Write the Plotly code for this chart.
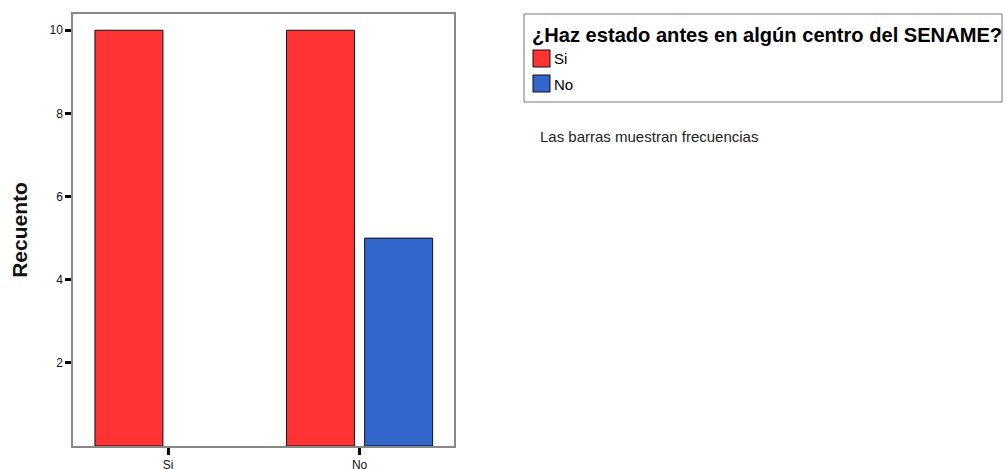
import plotly.graph_objects as go

categories = ['Si', 'No']
series_names = ['Si', 'No']
series_values = [
    [10, 10],    # Si
    [None, 5],   # No (no cases in the "Si" group)
]
series_colors = ['#FF3334', '#3366CC']
y_ticks = [2, 4, 6, 8, 10]
legend_title = '¿Haz estado antes en algún centro del SENAME?'
footnote = 'Las barras muestran frecuencias'

# figure geometry in page pixels
W, H = 1005, 469
L, R, T, B = 73, 551, 14, 23
PW, PH = W - L - R, H - T - B


def px(x):
    return (x - L) / PW


def py(y):
    return (H - B - y) / PH


fig = go.Figure()
for name, vals, color in zip(series_names, series_values, series_colors):
    fig.add_trace(go.Bar(
        x=categories,
        y=vals,
        name=name,
        marker=dict(color=color, line=dict(color='#111111', width=1)),
        showlegend=False,
    ))

# hand-made legend box, SPSS style
shapes = [dict(
    type='rect', xref='paper', yref='paper',
    x0=px(524), x1=px(1002), y0=py(14), y1=py(102),
    line=dict(color='#777777', width=1), fillcolor='white', layer='below',
)]
annotations = [dict(
    text='<b>' + legend_title + '</b>',
    xref='paper', yref='paper', x=px(530), y=py(35),
    xanchor='left', yanchor='middle', showarrow=False,
    font=dict(size=20.1, color='black'),
)]
for i, (name, color) in enumerate(zip(series_names, series_colors)):
    top = 50 + i * 25
    shapes.append(dict(
        type='rect', xref='paper', yref='paper',
        x0=px(533), x1=px(550), y0=py(top), y1=py(top + 17),
        line=dict(color='#111111', width=1), fillcolor=color,
    ))
    annotations.append(dict(
        text=name, xref='paper', yref='paper', x=px(552), y=py(top + 9),
        xanchor='left', yanchor='middle', showarrow=False,
        font=dict(size=15, color='black'),
    ))
annotations.append(dict(
    text=footnote, xref='paper', yref='paper', x=px(538), y=py(136),
    xanchor='left', yanchor='middle', showarrow=False,
    font=dict(size=15, color='#222222'),
))

fig.update_layout(
    width=W,
    height=H,
    barmode='group',
    bargap=0.184,
    bargroupgap=0.13,
    plot_bgcolor='white',
    paper_bgcolor='white',
    font=dict(family='Liberation Sans, Arial, sans-serif', color='#111111'),
    margin=dict(l=L, r=R, t=T, b=B, autoexpand=False),
    showlegend=False,
    shapes=shapes,
    annotations=annotations,
)

fig.update_xaxes(
    type='category',
    range=[-0.496, 1.493],
    showline=True,
    linecolor='#888888',
    linewidth=1.5,
    mirror=True,
    ticks='outside',
    ticklen=7,
    tickwidth=3,
    tickcolor='black',
    tickfont=dict(size=12),
    showgrid=False,
    zeroline=False,
)
fig.update_yaxes(
    range=[0, 10.39],
    tickvals=y_ticks,
    showline=True,
    linecolor='#888888',
    linewidth=1.5,
    mirror=True,
    ticks='outside',
    ticklen=6,
    tickwidth=3,
    tickcolor='black',
    tickfont=dict(size=12),
    showgrid=False,
    zeroline=False,
    title=dict(text='<b>Recuento</b>', font=dict(size=21), standoff=16),
)

# drop the default page margin so the figure sits at the window corner
fig.write_html(
    'out.html',
    config=dict(displayModeBar=False),
    post_script="document.body.style.margin='0';document.body.style.overflow='hidden';",
)
